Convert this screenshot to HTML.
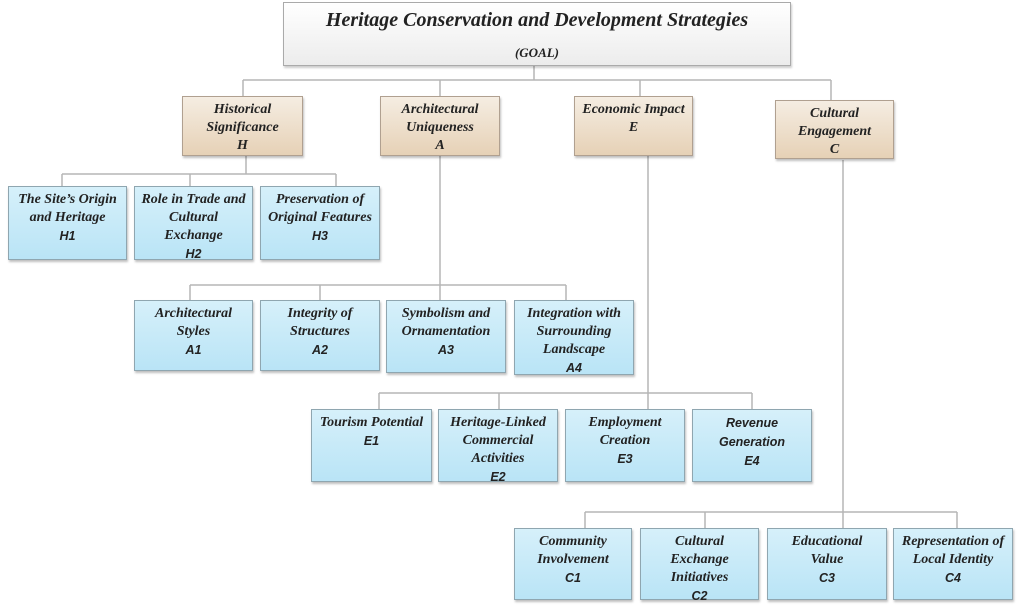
<!DOCTYPE html>
<html><head><meta charset="utf-8">
<style>
body{margin:0;width:1024px;height:606px;background:#fff;position:relative;overflow:hidden;font-family:"Liberation Serif",serif;}
.b{position:absolute;box-sizing:border-box;text-align:center;font-weight:bold;font-style:italic;font-size:14px;line-height:18px;color:#222;padding-top:4px;}
.bl{background:linear-gradient(#d6f0fa,#b9e4f6);border:1px solid #8fa6b0;box-shadow:1px 2px 2px rgba(0,0,0,.25);}
.tn{background:linear-gradient(#f5ede2,#e6d1b6);border:1px solid #b0a090;box-shadow:1px 2px 2px rgba(0,0,0,.25);}
.c{font-family:"Liberation Sans",sans-serif;font-size:12.5px;font-weight:bold;font-style:italic;}
svg{position:absolute;left:0;top:0}
</style></head><body>
<svg width="1024" height="606"><g stroke="#b5b5b5" stroke-width="1.5" fill="none">
<path d="M534 66V80M243 80H831M243 80V96M440 80V96M640 80V96M831 80V100"/>
<path d="M246 155V174M62 174H336M62 174V186M190 174V186M336 174V186"/>
<path d="M440 155V285M190 285H566M190 285V300M320 285V300M440 285V300M566 285V300"/>
<path d="M648 155V393M379 393H752M379 393V409M499 393V409M648 393V409M752 393V409"/>
<path d="M843 160V528M585 512H957M585 512V528M705 512V528M957 512V528"/>
</g></svg>
<div class="b" style="left:283px;top:2px;width:508px;height:64px;border:1px solid #aaa;background:linear-gradient(#fff,#ececec);box-shadow:1px 2px 2px rgba(0,0,0,.2);font-size:20px;line-height:24px;padding-top:5px">Heritage Conservation and Development Strategies<div style="font-size:13px;margin-top:13px;line-height:16px">(GOAL)</div></div>
<div class="b tn" style="left:182px;top:96px;width:121px;height:60px">Historical<br>Significance<br>H</div>
<div class="b tn" style="left:380px;top:96px;width:120px;height:60px">Architectural<br>Uniqueness<br>A</div>
<div class="b tn" style="left:574px;top:96px;width:119px;height:60px">Economic Impact<br>E</div>
<div class="b tn" style="left:775px;top:100px;width:119px;height:59px">Cultural<br>Engagement<br>C</div>

<div class="b bl" style="left:8px;top:186px;width:119px;height:74px">The Site’s Origin<br>and Heritage<br><span class="c">H1</span></div>
<div class="b bl" style="left:134px;top:186px;width:119px;height:74px">Role in Trade and<br>Cultural<br>Exchange<br><span class="c">H2</span></div>
<div class="b bl" style="left:260px;top:186px;width:120px;height:74px">Preservation of<br>Original Features<br><span class="c">H3</span></div>

<div class="b bl" style="left:134px;top:300px;width:119px;height:71px">Architectural<br>Styles<br><span class="c">A1</span></div>
<div class="b bl" style="left:260px;top:300px;width:120px;height:71px">Integrity of<br>Structures<br><span class="c">A2</span></div>
<div class="b bl" style="left:386px;top:300px;width:120px;height:73px">Symbolism and<br>Ornamentation<br><span class="c">A3</span></div>
<div class="b bl" style="left:514px;top:300px;width:120px;height:75px">Integration with<br>Surrounding<br>Landscape<br><span class="c">A4</span></div>

<div class="b bl" style="left:311px;top:409px;width:121px;height:73px">Tourism Potential<br><span class="c">E1</span></div>
<div class="b bl" style="left:438px;top:409px;width:120px;height:73px">Heritage-Linked<br>Commercial<br>Activities<br><span class="c">E2</span></div>
<div class="b bl" style="left:565px;top:409px;width:120px;height:73px">Employment<br>Creation<br><span class="c">E3</span></div>
<div class="b bl" style="left:692px;top:409px;width:120px;height:73px"><span class="c">Revenue<br>Generation<br>E4</span></div>

<div class="b bl" style="left:514px;top:528px;width:118px;height:72px">Community<br>Involvement<br><span class="c">C1</span></div>
<div class="b bl" style="left:640px;top:528px;width:119px;height:72px">Cultural<br>Exchange<br>Initiatives<br><span class="c">C2</span></div>
<div class="b bl" style="left:767px;top:528px;width:120px;height:72px">Educational<br>Value<br><span class="c">C3</span></div>
<div class="b bl" style="left:893px;top:528px;width:120px;height:72px">Representation of<br>Local Identity<br><span class="c">C4</span></div>
</body></html>
